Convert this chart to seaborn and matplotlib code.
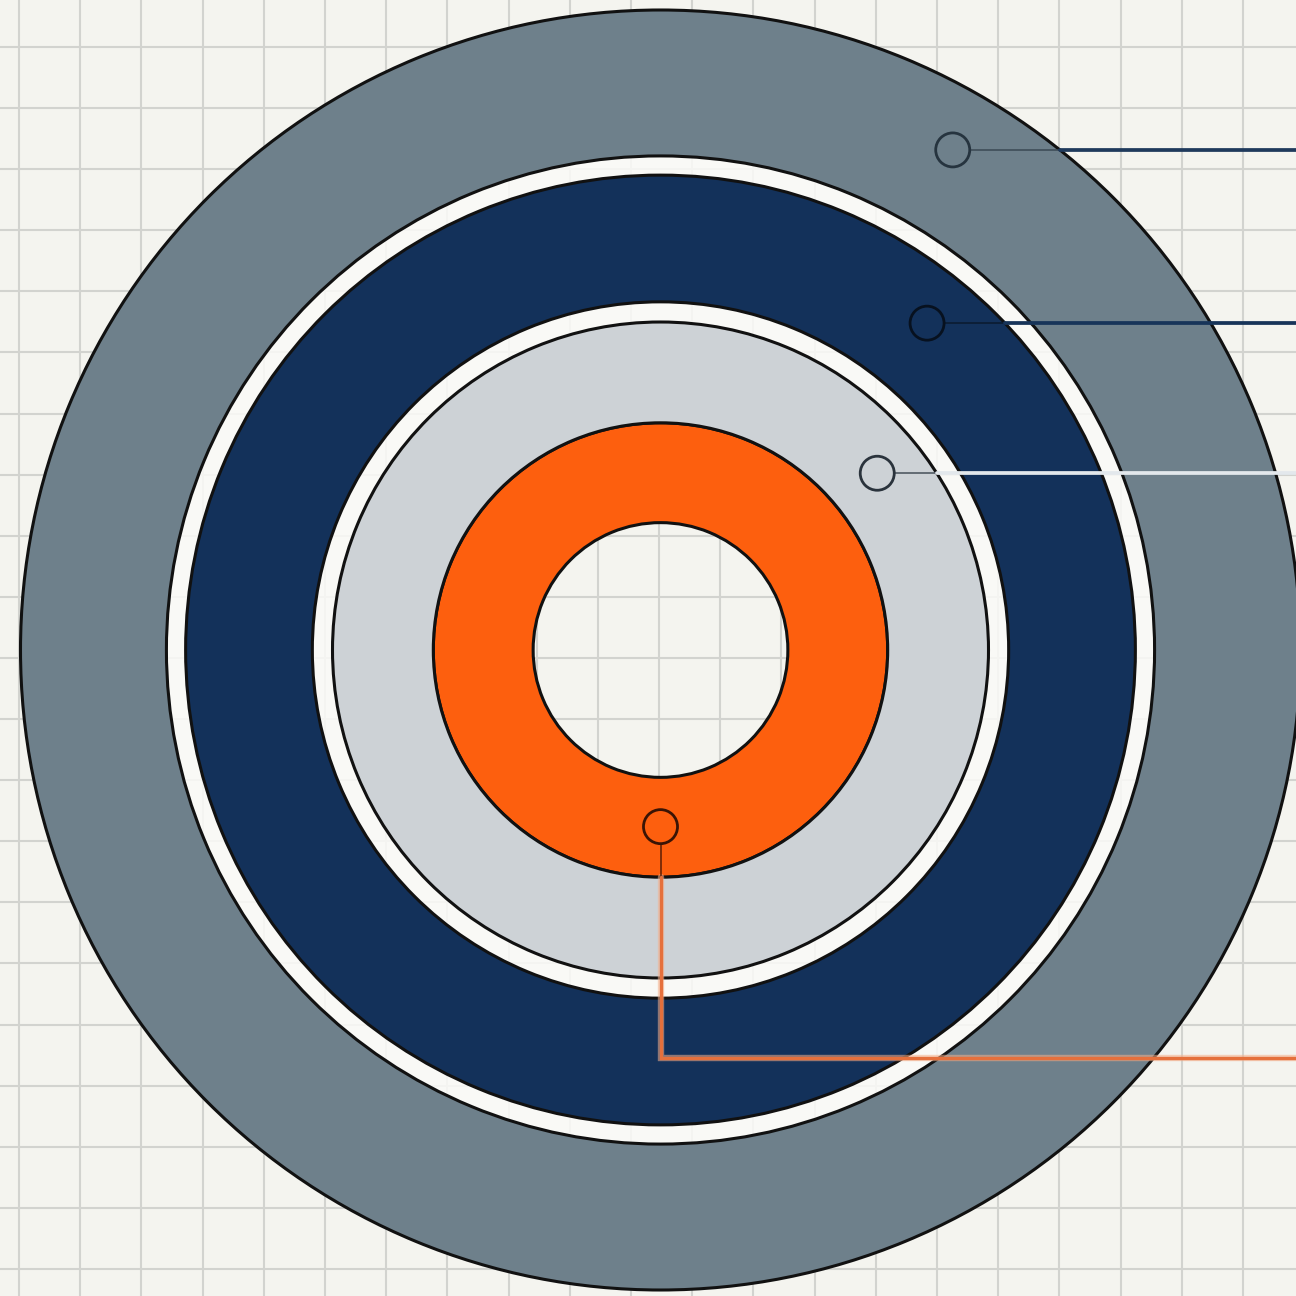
import numpy as np
import pandas as pd
import matplotlib
matplotlib.use("Agg")
import matplotlib.pyplot as plt
import seaborn as sns
from matplotlib.patches import Circle, Wedge

# ---------------- data ----------------
ring_names = ["Core", "Inner", "Middle", "Outer"]
ring_inner = [0.199, 0.355, 0.544, 0.772]
ring_outer = [0.355, 0.5125, 0.742, 1.0]
ring_colors = ["#fd5f0e", "#cdd2d6", "#13315a", "#6e808b"]

gap_inner = [0.5125, 0.742]
gap_outer = [0.544, 0.772]

marker_r = [0.276, 0.437, 0.659, 0.905]
marker_deg = [-90.0, 39.2, 50.8, 59.7]
leader_colors = ["#e5703c", "#e3e8ec", "#173459", "#1f3a5c"]
connector_colors = ["#5a1e05", "#46505a", "#0b1a2e", "#3a4854"]
marker_edges = ["#3a1405", "#2a333c", "#07111f", "#26343f"]
elbow_y = -0.6375

# ---------------- style ----------------
BG = "#f4f4ef"
GRID = "#d2d3cf"
sns.set_theme(style="whitegrid", rc={
    "axes.facecolor": BG, "figure.facecolor": BG,
    "grid.color": GRID, "grid.linewidth": 1.5,
    "axes.edgecolor": BG,
})

fig = plt.figure(figsize=(12.96, 12.96), dpi=100)
ax = fig.add_axes([0, 0, 1, 1])
ax.set_axisbelow(True)

# white gap bands (semi transparent so the grid shows faintly)
for gi, go in zip(gap_inner, gap_outer):
    ax.add_patch(Wedge((0, 0), go, 0, 360, width=go - gi,
                       facecolor="#fbfbf8", edgecolor="none",
                       alpha=0.85, zorder=1.5))

# centre hole: background with its own grid
hole = Circle((0, 0), ring_inner[0], facecolor=BG, edgecolor="none", zorder=1)
ax.add_patch(hole)
step = 61.2 / 640
hx = -0.0023 + step * np.arange(-3, 4)
hy = -0.0125 + step * np.arange(-3, 4)
for x in hx:
    ln, = ax.plot([x, x], [-0.3, 0.3], color=GRID, lw=1.5, zorder=1.1)
    ln.set_clip_path(hole)
for y in hy:
    ln, = ax.plot([-0.3, 0.3], [y, y], color=GRID, lw=1.5, zorder=1.1)
    ln.set_clip_path(hole)

# rings
for name, ri, ro, c in zip(ring_names, ring_inner, ring_outer, ring_colors):
    ax.add_patch(Wedge((0, 0), ro, 0, 360, width=ro - ri,
                       facecolor=c, edgecolor="#111111", linewidth=2.2,
                       zorder=2, label=name))

# markers and leader lines
mr = np.array(marker_r)
mt = np.deg2rad(marker_deg)
mx = mr * np.cos(mt)
my = mr * np.sin(mt)
rad = 17 / 640
xmax = 1.1

for i in range(len(marker_r)):
    if i == 0:
        ax.plot([mx[i], mx[i]], [my[i] - rad, -ring_outer[i]],
                color=connector_colors[i], lw=1.1, zorder=5)
        ax.plot([mx[i], mx[i], xmax], [-ring_outer[i], elbow_y, elbow_y],
                color="#f4b08c", lw=4.6, alpha=0.55, zorder=4.9,
                solid_joinstyle="miter")
        ax.plot([mx[i], mx[i], xmax], [-ring_outer[i], elbow_y, elbow_y],
                color=leader_colors[i], lw=2.4, zorder=5,
                solid_joinstyle="miter")
    else:
        xb = np.sqrt(ring_outer[i] ** 2 - my[i] ** 2)
        ax.plot([mx[i] + rad, xb], [my[i], my[i]],
                color=connector_colors[i], lw=1.1, zorder=5)
        ax.plot([xb, xmax], [my[i], my[i]],
                color=leader_colors[i], lw=2.7, zorder=5)

markers = pd.DataFrame({"x": mx, "y": my, "ring": ring_names})
sns.scatterplot(data=markers, x="x", y="y", ax=ax, s=600, marker="o",
                facecolor="none", edgecolor=marker_edges, linewidth=2.0,
                zorder=6, legend=False)

# layout / grid (ticks first, limits last so they are not expanded)
ax.set_xticks(-1.0023 + step * np.arange(0, 22))
ax.set_yticks(0.9422 - (61.1 / 640) * np.arange(0, 22))
ax.set_aspect("auto")
ax.set_xlim(-660.5 / 640, (1296 - 660.5) / 640)
ax.set_ylim((650 - 1296) / 640, 650 / 640)
ax.tick_params(length=0, labelbottom=False, labelleft=False)
ax.set_xlabel("")
ax.set_ylabel("")
for s in ax.spines.values():
    s.set_visible(False)
ax.grid(True, color=GRID, lw=1.5)

fig.savefig("out.png", dpi=100, facecolor=BG)
